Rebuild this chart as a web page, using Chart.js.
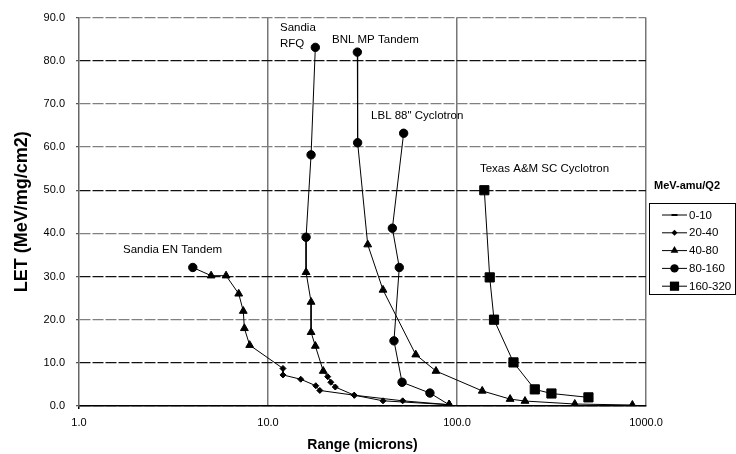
<!DOCTYPE html>
<html><head><meta charset="utf-8">
<script src="https://cdn.jsdelivr.net/npm/chart.js@4/dist/chart.umd.min.js"></script>
<style>html,body{margin:0;padding:0;background:#fff}canvas{display:block}</style>
</head><body>
<canvas id="c" width="736" height="454"></canvas>
<script>
// ---- data ----
const xTickValues = [1, 10, 100, 1000];
const yTickValues = [0, 10, 20, 30, 40, 50, 60, 70, 80, 90];
const categories = ['0-10', '20-40', '40-80', '80-160', '160-320'];
const legendTitle = 'MeV-amu/Q2';
const facilities = ['Sandia EN Tandem', 'Sandia RFQ', 'BNL MP Tandem', 'LBL 88" Cyclotron', 'Texas A&M SC Cyclotron'];

const enRange = [4.0, 5.0, 6.0, 7.0, 7.4, 7.5, 8.0, 12.0, 12.0, 14.9, 17.9, 18.8, 28.6, 40.6, 91];
const enLET   = [32.1, 30.2, 30.2, 26.0, 22.0, 18.0, 14.1, 8.7, 7.2, 6.2, 4.7, 3.6, 2.5, 1.2, 0.3];
const enCat   = [3, 2, 2, 2, 2, 2, 2, 1, 1, 1, 1, 1, 1, 1, 2];

const rfqRange = [17.8, 16.9, 15.9, 15.9, 16.9, 16.9, 17.8, 19.6, 20.7, 21.5, 22.7, 28.6, 51.6, 91];
const rfqLET   = [83.1, 58.2, 39.1, 31.0, 24.1, 17.1, 13.9, 8.1, 6.8, 5.5, 4.4, 2.5, 1.2, 0.3];
const rfqCat   = [3, 3, 3, 2, 2, 2, 2, 2, 1, 1, 1, 1, 1, 2];

const bnlRange = [29.7, 29.8, 33.7, 40.6, 60.5, 77.4, 136, 191, 229, 420, 847];
const bnlLET   = [82.0, 61.0, 37.4, 26.9, 11.9, 8.1, 3.5, 1.6, 1.15, 0.46, 0.23];
const bnlCat   = [3, 3, 2, 2, 2, 2, 2, 2, 2, 2, 2];

const lblRange = [52.2, 45.5, 49.5, 46.4, 51.2, 71.9, 90.7];
const lblLET   = [63.2, 41.2, 32.1, 15.1, 5.5, 3.0, 0.3];
const lblCat   = [3, 3, 3, 3, 3, 3, 2];

const texRange = [139.5, 149, 157, 199, 258, 316, 496];
const texLET   = [50.0, 29.8, 20.0, 10.1, 3.85, 2.9, 2.0];
const texCat   = [4, 4, 4, 4, 4, 4, 4];

// annotation texts and their anchors (data coordinates)
const noteTexts = ['Sandia EN Tandem', 'Sandia', 'RFQ', 'BNL MP Tandem', 'LBL 88" Cyclotron', 'Texas A&M SC Cyclotron'];
const noteX = [1.71, 11.57, 11.57, 21.8, 35.1, 132.3];
const noteY = [36.2, 87.7, 84.0, 84.9, 67.2, 54.9];

// ---- styles ----
const FONT = '"Liberation Sans", Arial, Helvetica, sans-serif';
const styleFor = ['line', 'rectRot', 'triangle', 'circle', 'rect'];
const radiusFor = [3, 3, 4.5, 4.2, 6.5];
const darkGridValues = [0, 10, 30, 50, 80];

function makeDataset(label, xs, ys, cats) {
  return {
    label: label,
    data: xs.map((x, i) => ({x: x, y: ys[i]})),
    pointStyle: cats.map(c => styleFor[c]),
    pointRadius: cats.map(c => radiusFor[c]),
    pointHoverRadius: cats.map(c => radiusFor[c]),
    borderColor: '#000',
    backgroundColor: '#000',
    pointBackgroundColor: '#000',
    pointBorderColor: '#000',
    pointBorderWidth: 1,
    borderWidth: 1,
    tension: 0,
    fill: false
  };
}

function drawMarker(ctx, style, r, x, y) {
  ctx.beginPath();
  if (style === 'circle') {
    ctx.arc(x, y, r, 0, Math.PI * 2); ctx.fill();
  } else if (style === 'rect') {
    const s = r * Math.SQRT1_2; ctx.fillRect(x - s, y - s, 2 * s, 2 * s);
  } else if (style === 'rectRot') {
    ctx.moveTo(x, y - r); ctx.lineTo(x + r, y); ctx.lineTo(x, y + r); ctx.lineTo(x - r, y); ctx.closePath(); ctx.fill();
  } else if (style === 'triangle') {
    const h = r * 1.5, half = r * Math.sqrt(3) / 2;
    ctx.moveTo(x, y - r); ctx.lineTo(x + half, y - r + h); ctx.lineTo(x - half, y - r + h); ctx.closePath(); ctx.fill();
  } else if (style === 'line') {
    ctx.lineWidth = 2; ctx.moveTo(x - r, y); ctx.lineTo(x + r, y); ctx.stroke();
  }
}

const legendPlugin = {
  id: 'boxLegend',
  afterDraw(chart) {
    const ctx = chart.ctx;
    ctx.save();
    ctx.fillStyle = '#000'; ctx.strokeStyle = '#000';
    ctx.font = 'bold 11px ' + FONT;
    ctx.textBaseline = 'middle'; ctx.textAlign = 'left';
    ctx.fillText(legendTitle, 654, 186);
    ctx.lineWidth = 1;
    ctx.strokeRect(649.5, 203.5, 86, 91);
    ctx.font = '11.5px ' + FONT;
    categories.forEach((c, i) => {
      const y = 215 + i * 17.8;
      ctx.lineWidth = 1;
      ctx.beginPath(); ctx.moveTo(662, y); ctx.lineTo(687, y); ctx.stroke();
      drawMarker(ctx, styleFor[i], radiusFor[i], 674.5, y);
      ctx.fillText(c, 689, y + 0.5);
    });
    ctx.restore();
  }
};

const notePlugin = {
  id: 'notes',
  afterDatasetsDraw(chart) {
    const ctx = chart.ctx, xs = chart.scales.x, ys = chart.scales.y;
    ctx.save();
    ctx.fillStyle = '#000';
    ctx.font = '11.5px ' + FONT;
    ctx.textAlign = 'left'; ctx.textBaseline = 'middle';
    noteTexts.forEach((t, i) => {
      ctx.fillText(t, xs.getPixelForValue(noteX[i]), ys.getPixelForValue(noteY[i]));
    });
    ctx.restore();
  }
};

new Chart(document.getElementById('c'), {
  type: 'line',
  data: {
    datasets: [
      makeDataset(facilities[0], enRange, enLET, enCat),
      makeDataset(facilities[1], rfqRange, rfqLET, rfqCat),
      makeDataset(facilities[2], bnlRange, bnlLET, bnlCat),
      makeDataset(facilities[3], lblRange, lblLET, lblCat),
      makeDataset(facilities[4], texRange, texLET, texCat)
    ]
  },
  options: {
    responsive: false,
    animation: false,
    devicePixelRatio: 1,
    layout: {padding: {left: 0, right: 90, top: 16, bottom: 0}},
    plugins: {legend: {display: false}, tooltip: {enabled: false}, title: {display: false}},
    scales: {
      x: {
        type: 'logarithmic',
        min: 1, max: 1000,
        afterBuildTicks: s => { s.ticks = xTickValues.map(v => ({value: v})); },
        afterFit: s => { s.height = 48; },
        ticks: {
          autoSkip: false, maxRotation: 0, padding: 7, color: '#000',
          font: {family: FONT, size: 11},
          callback: v => Number(v).toFixed(1)
        },
        grid: {
          color: c => (c.tick && c.tick.value === 1) ? 'rgba(0,0,0,0)' : '#777',
          lineWidth: 1.5,
          tickLength: 3,
          tickColor: c => (c.tick && c.tick.value === 1) ? '#000' : 'rgba(0,0,0,0)'
        },
        border: {color: '#000', width: 1.5},
        title: {display: true, text: 'Range (microns)', color: '#000', font: {family: FONT, size: 14, weight: 'bold'}, padding: {top: 3, bottom: 0}}
      },
      y: {
        type: 'linear',
        min: 0, max: 90,
        afterBuildTicks: s => { s.ticks = yTickValues.map(v => ({value: v})); },
        afterFit: s => { s.width = 79; },
        ticks: {
          padding: 11, color: '#000',
          font: {family: FONT, size: 11},
          callback: v => Number(v).toFixed(1)
        },
        grid: {
          color: c => (c.tick && darkGridValues.indexOf(c.tick.value) >= 0) ? '#111' : '#808080',
          lineWidth: 1.3,
          tickLength: 3,
          tickColor: '#555'
        },
        border: {color: '#666', width: 1.5, dash: [11, 2]},
        title: {display: true, text: 'LET (MeV/mg/cm2)', color: '#000', font: {family: FONT, size: 18, weight: 'bold'}, padding: {top: 11, bottom: 0}}
      }
    }
  },
  plugins: [legendPlugin, notePlugin]
});
</script>
</body></html>
